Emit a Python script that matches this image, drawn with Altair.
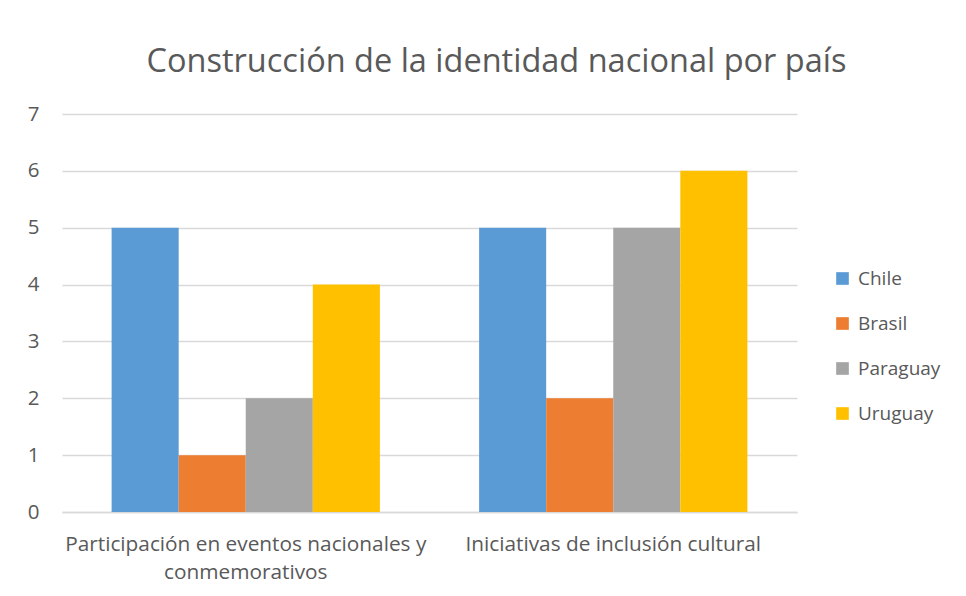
import altair as alt
import pandas as pd

categories = ["Participación en eventos nacionales y conmemorativos", "Iniciativas de inclusión cultural"]
category_lines = [["Participación en eventos nacionales y", "conmemorativos"], ["Iniciativas de inclusión cultural"]]
countries = ["Chile", "Brasil", "Paraguay", "Uruguay"]
colors = ["#5B9BD5", "#ED7D31", "#A5A5A5", "#FFC000"]
chile = [5, 5]
brasil = [1, 2]
paraguay = [2, 5]
uruguay = [4, 6]

series = {"Chile": chile, "Brasil": brasil, "Paraguay": paraguay, "Uruguay": uruguay}
rows = []
for c in countries:
    for i, cat in enumerate(categories):
        rows.append({"categoria": cat, "pais": c, "valor": series[c][i]})
df = pd.DataFrame(rows)

label_expr = " : ".join(
    f"datum.value == '{cat}' ? {lines!r}" for cat, lines in zip(categories, category_lines)
) + " : datum.value"

FONT = "Open Sans"
TXT = "#595959"

chart = alt.Chart(df).mark_bar().encode(
    x=alt.X("categoria:N", sort=categories, title=None,
            scale=alt.Scale(paddingInner=0.27, paddingOuter=0.135),
            axis=alt.Axis(labelAngle=0, labelExpr=label_expr, domain=True, domainColor="#d9d9d9",
                          domainWidth=1.3, ticks=False, labelPadding=22, labelFontSize=20.8,
                          labelColor=TXT, labelFont=FONT, labelLimit=500, labelLineHeight=28,
                          grid=False)),
    xOffset=alt.XOffset("pais:N", sort=countries),
    y=alt.Y("valor:Q", title=None,
            scale=alt.Scale(domain=[0, 7]),
            axis=alt.Axis(values=list(range(8)), domain=False, ticks=False, labelPadding=23,
                          labelFontSize=20.5, labelColor=TXT, labelFont=FONT,
                          gridColor="#d9d9d9", gridWidth=1.3)),
    color=alt.Color("pais:N", sort=countries, title=None,
                    scale=alt.Scale(domain=countries, range=colors),
                    legend=alt.Legend(orient="none", legendX=771, legendY=155,
                                      symbolType="square", symbolSize=160,
                                      symbolStrokeWidth=0, labelFontSize=19, labelFont=FONT,
                                      labelColor=TXT, rowPadding=25, labelOffset=6)),
).properties(
    width=735, height=398,
    title=alt.Title("Construcción de la identidad nacional por país", fontSize=32.5,
                    font=FONT, fontWeight="normal", color=TXT, anchor="middle",
                    dx=67, offset=26),
    autosize=alt.AutoSizeParams(type="none"),
    padding={"left": 54, "top": 106, "right": 160, "bottom": 78},
    background="white",
).configure_view(stroke=None)

chart.save("out.html", embed_options={"renderer": "svg", "actions": False})
